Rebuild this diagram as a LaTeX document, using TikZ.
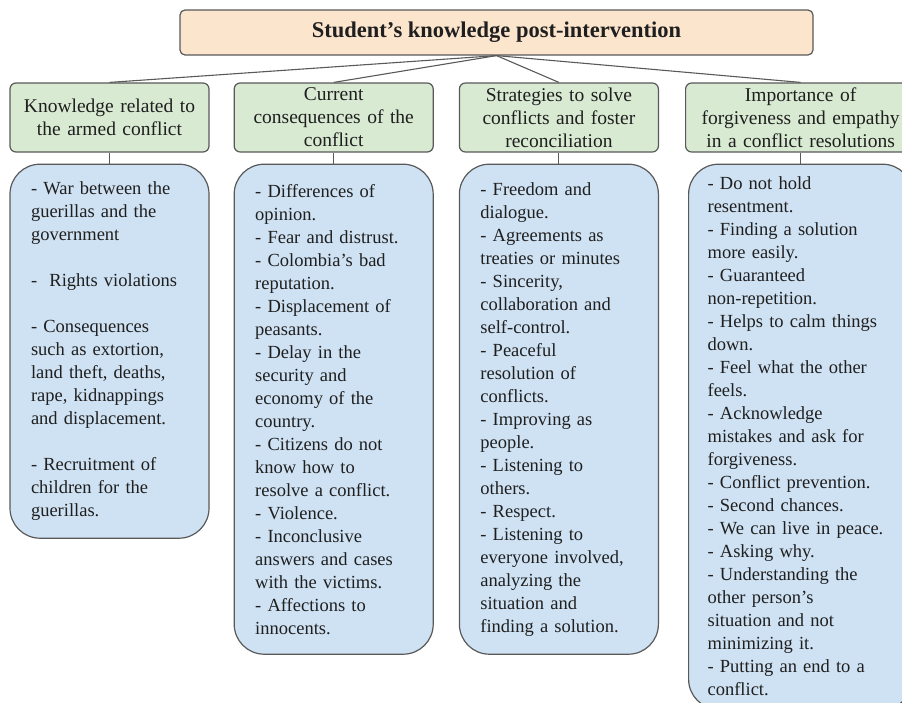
\documentclass[tikz,border=0pt]{standalone}
\usepackage{fontspec}
\setmainfont{Liberation Serif}
\usepackage{xcolor}
\usetikzlibrary{positioning}
\definecolor{Peach}{HTML}{FCE5CD}
\definecolor{Sage}{HTML}{D9EAD3}
\definecolor{Sky}{HTML}{CFE2F3}
\definecolor{Edge}{HTML}{595959}
\definecolor{Ink}{HTML}{1F1F1F}
\tikzset{
  titlebox/.style={draw=Edge,line width=1.2pt,rounded corners=5pt,fill=Peach,text=Ink,
              minimum width=633pt,minimum height=45pt,font=\fontsize{22.5}{26}\selectfont\bfseries},
  topicbox/.style={draw=Edge,line width=1.2pt,rounded corners=6pt,fill=Sage,text=Ink,align=center,
              minimum height=69pt,text width=189pt,inner xsep=5pt,font=\fontsize{19.5}{23}\selectfont},
  listbox/.style={draw=Edge,line width=1.2pt,rounded corners=30pt,fill=Sky,text=Ink,align=left,
              text width=157pt,inner xsep=21pt,font=\fontsize{18.5}{23}\selectfont},
  link/.style={draw=Edge,line width=1.1pt}
}

\begin{document}
\begin{tikzpicture}[x=1pt,y=1pt]
  \useasboundingbox (0,0) rectangle (902,-702);
  \clip (0,0) rectangle (902,-702);

  \node[titlebox] (title) at (496.5,-32.5) {Student's knowledge post-intervention};

  % topic headers
  \node[topicbox] (armed) at (109.5,-117.5) {Knowledge related to\\the armed conflict};
  \node[topicbox,right=24pt of armed] (effects) {Current\\consequences of the\\conflict};
  \node[topicbox,right=25pt of effects] (strategies) {Strategies to solve\\conflicts and foster\\reconciliation};
  \node[topicbox,right=26pt of strategies,text width=220pt] (forgive) {Importance of\\forgiveness and empathy\\in a conflict resolutions};

  % answer lists
  \node[listbox,below=11pt of armed,minimum height=374pt] (armedlist) {- War between the\\guerillas and the\\government\\[23pt]
    -\ \ Rights violations\\[23pt]
    - Consequences\\such as extortion,\\land theft, deaths,\\rape, kidnappings\\and displacement.\\[23pt]
    - Recruitment of\\children for the\\guerillas.};
  \node[listbox,below=11pt of effects,minimum height=490pt] (effectslist) {- Differences of\\opinion.\\- Fear and distrust.\\- Colombia's bad\\reputation.\\- Displacement of\\peasants.\\- Delay in the\\security and\\economy of the\\country.\\- Citizens do not\\know how to\\resolve a conflict.\\- Violence.\\- Inconclusive\\answers and cases\\with the victims.\\- Affections to\\innocents.};
  \node[listbox,below=11pt of strategies,minimum height=490pt] (strategieslist) {- Freedom and\\dialogue.\\- Agreements as\\treaties or minutes\\- Sincerity,\\collaboration and\\self-control.\\- Peaceful\\resolution of\\conflicts.\\- Improving as\\people.\\- Listening to\\others.\\- Respect.\\- Listening to\\everyone involved,\\analyzing the\\situation and\\finding a solution.};
  \node[listbox,below=11pt of forgive,minimum height=545pt,text width=186pt,inner xsep=19pt] (forgivelist) {- Do not hold\\resentment.\\- Finding a solution\\more easily.\\- Guaranteed\\non-repetition.\\- Helps to calm things\\down.\\- Feel what the other\\feels.\\- Acknowledge\\mistakes and ask for\\forgiveness.\\- Conflict prevention.\\- Second chances.\\- We can live in peace.\\- Asking why.\\- Understanding the\\other person's\\situation and not\\minimizing it.\\- Putting an end to a\\conflict.};

  \foreach \t in {armed,effects,strategies,forgive}{
    \draw[link] (title.south) -- (\t.north);
    \draw[link] (\t) -- (\t list);
  }
\end{tikzpicture}
\end{document}
